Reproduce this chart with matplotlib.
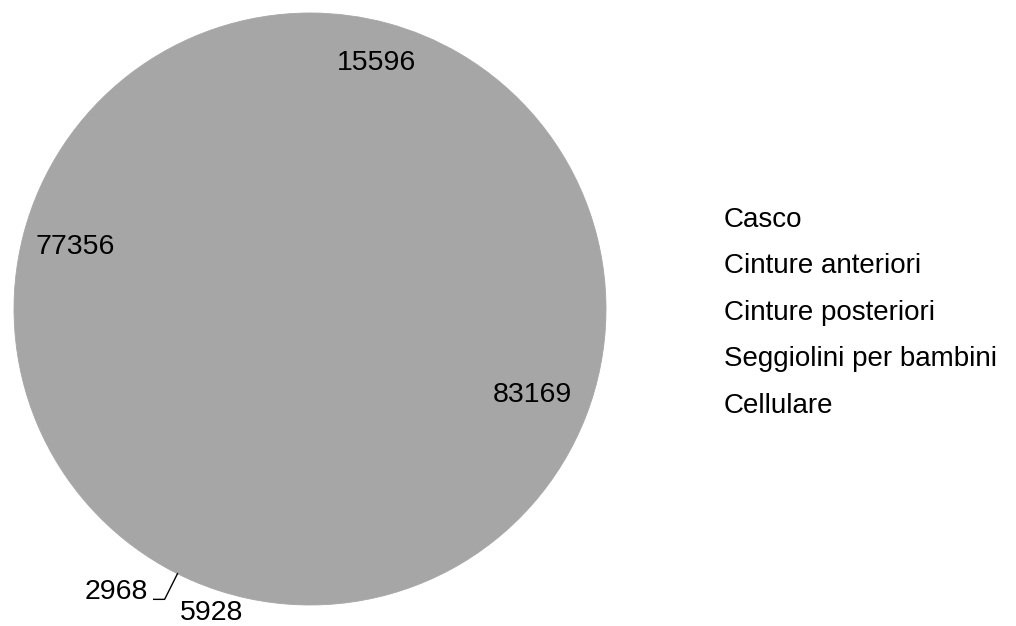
import matplotlib
matplotlib.use("Agg")
import matplotlib.pyplot as plt
import numpy as np

categories = ["Casco", "Cinture anteriori", "Cinture posteriori",
              "Seggiolini per bambini", "Cellulare"]
values = [15596, 83169, 5928, 2968, 77356]

plt.rcParams['font.family'] = ['Liberation Sans', 'DejaVu Sans']
W, H = 1016, 626
fig = plt.figure(figsize=(W / 100, H / 100), dpi=100)

pie_color = '#a6a6a6'
cx, cy, R = 310, 309, 296
ax = fig.add_axes([(cx - R) / W, (H - cy - R) / H, 2 * R / W, 2 * R / H])
wedges, _ = ax.pie(values, startangle=90, counterclock=False, radius=1,
                   colors=[pie_color] * len(values),
                   wedgeprops=dict(linewidth=0.6, edgecolor=pie_color, antialiased=True))
ax.set_xlim(-1, 1)
ax.set_ylim(-1, 1)
ax.set_aspect('equal')
ax.axis('off')

fs_num = 20.5
fs_leg = 20
label_r = [0.86, 0.805, 1.08, None, 0.822]
for w, v, r in zip(wedges, values, label_r):
    mid = np.deg2rad((w.theta1 + w.theta2) / 2)
    if r is not None:
        ax.text(r * np.cos(mid), r * np.sin(mid), str(v), ha='center', va='center',
                fontsize=fs_num, color='black')
    else:
        x0, y0 = np.cos(mid), np.sin(mid)
        x1, y1 = 1.097 * np.cos(mid), 1.097 * np.sin(mid)
        x2 = x1 - 0.037
        ax.plot([x0, x1, x2], [y0, y1, y1], color='black', lw=1, clip_on=False)
        ax.text(x2 - 0.02, y1, str(v), ha='right', va='baseline', fontsize=fs_num,
                color='black')

for i, c in enumerate(categories):
    fig.text(724 / W, 1 - (227 + 46.5 * i) / H, c, ha='left', va='baseline',
             fontsize=fs_leg, color='black')

fig.savefig("out.png", dpi=100, facecolor='white')
